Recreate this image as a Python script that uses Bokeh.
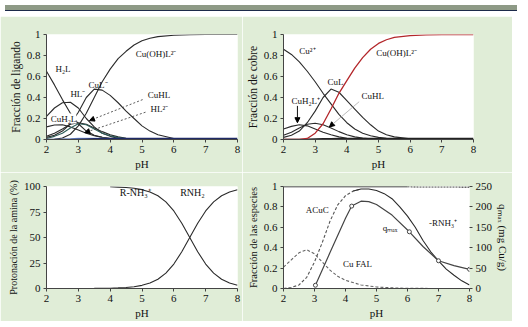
from bokeh.plotting import figure
from bokeh.models import Range1d, LinearAxis, Label, Arrow, NormalHead, Div, FixedTicker
from bokeh.layouts import column, row
from bokeh.embed import file_html
from bokeh.resources import INLINE

# ---------------- data ----------------
ph_a = [2.0, 2.25, 2.5, 2.75, 3.0, 3.25, 3.5, 3.75, 4.0, 4.25, 4.5, 4.75,
        5.0, 5.25, 5.5, 6.0, 6.5, 7.0, 7.5, 8.0]

# panel 1: ligand fraction
lig_H2L = [0.65, 0.52, 0.38, 0.25, 0.15, 0.08, 0.04, 0.02, 0.01, 0.005, 0.002, 0.001, 0, 0, 0, 0, 0, 0, 0, 0]
lig_HL = [0.22, 0.30, 0.35, 0.355, 0.30, 0.20, 0.12, 0.06, 0.03, 0.012, 0.005, 0.002, 0.001, 0, 0, 0, 0, 0, 0, 0]
lig_CuH2L = [0.12, 0.138, 0.14, 0.12, 0.09, 0.06, 0.035, 0.02, 0.01, 0.005, 0.002, 0.001, 0, 0, 0, 0, 0, 0, 0, 0]
lig_CuHL = [0.03, 0.06, 0.10, 0.145, 0.16, 0.145, 0.11, 0.075, 0.045, 0.025, 0.012, 0.006, 0.003, 0.001, 0, 0, 0, 0, 0, 0]
lig_HL2 = [0.01, 0.03, 0.06, 0.11, 0.15, 0.14, 0.10, 0.06, 0.035, 0.018, 0.008, 0.004, 0.002, 0.001, 0, 0, 0, 0, 0, 0]
lig_minor = [0, 0.001, 0.003, 0.006, 0.01, 0.012, 0.012, 0.01, 0.008, 0.005, 0.003, 0.002, 0.001, 0, 0, 0, 0, 0, 0, 0]
lig_tail = [0, 0, 0, 0, 0.002, 0.004, 0.006, 0.008, 0.01, 0.01, 0.01, 0.01, 0.01, 0.01, 0.01, 0.01, 0.01, 0.01, 0.01, 0.01]
lig_CuL = [0.02, 0.04, 0.08, 0.15, 0.26, 0.40, 0.48, 0.47, 0.42, 0.35, 0.27, 0.20, 0.13, 0.08, 0.045, 0.01, 0.002, 0, 0, 0]
lig_CuOHL = [0, 0.003, 0.015, 0.05, 0.13, 0.25, 0.40, 0.55, 0.67, 0.77, 0.84, 0.90, 0.94, 0.965, 0.98, 0.993, 0.998, 1, 1, 1]

# panel 2: copper fraction
cu_Cu = [0.86, 0.81, 0.74, 0.65, 0.55, 0.44, 0.34, 0.24, 0.16, 0.10, 0.06, 0.035, 0.02, 0.011, 0.006, 0.002, 0, 0, 0, 0]
cu_CuH2L = [0.10, 0.125, 0.14, 0.13, 0.10, 0.07, 0.045, 0.025, 0.012, 0.006, 0.003, 0.001, 0, 0, 0, 0, 0, 0, 0, 0]
cu_CuHL = [0.04, 0.07, 0.11, 0.145, 0.155, 0.14, 0.11, 0.075, 0.045, 0.025, 0.013, 0.007, 0.003, 0.001, 0, 0, 0, 0, 0, 0]
cu_CuL = [0.02, 0.04, 0.08, 0.16, 0.27, 0.40, 0.48, 0.45, 0.37, 0.29, 0.21, 0.14, 0.08, 0.045, 0.025, 0.006, 0.001, 0, 0, 0]
cu_CuOHL = [0, 0, 0, 0.01, 0.06, 0.15, 0.29, 0.44, 0.56, 0.68, 0.78, 0.86, 0.915, 0.95, 0.972, 0.99, 0.996, 0.999, 1, 1]
cu_tail = [0, 0, 0.001, 0.002, 0.004, 0.006, 0.008, 0.009, 0.01, 0.01, 0.01, 0.01, 0.01, 0.01, 0.01, 0.01, 0.01, 0.01, 0.01, 0.01]

# panel 3: amine protonation (%)
ph_b = [2, 2.5, 3, 3.5, 4, 4.25, 4.5, 4.75, 5, 5.25, 5.5, 5.75, 6, 6.25, 6.5, 6.75, 7, 7.25, 7.5, 7.75, 8]
amine_RNH2 = [0, 0.01, 0.03, 0.1, 0.3, 0.6, 1.0, 1.7, 3.1, 5.3, 9.1, 15.1, 24.0, 36.0, 50.0, 64.0, 76.0, 84.9, 90.9, 94.7, 96.9]
ph_b_nh3 = [4, 4.25, 4.5, 4.75, 5, 5.25, 5.5, 5.75, 6, 6.25, 6.5, 6.75, 7, 7.25, 7.5, 7.75, 8]
amine_RNH3 = [99.7, 99.4, 99.0, 98.3, 96.9, 94.7, 90.9, 84.9, 76.0, 64.0, 50.0, 36.0, 24.0, 15.1, 9.1, 5.3, 3.1]

# panel 4: species fraction + q_max
ph_top_solid = [2, 4, 6]
top_solid = [1.0, 1.0, 0.998]
ph_top_dot = [6, 7, 8]
top_dot = [0.998, 0.996, 0.995]
ph_acuc = [2, 2.25, 2.5, 2.75, 3, 3.25, 3.5, 3.75, 4, 4.25, 4.5]
acuc = [0, 0.01, 0.035, 0.11, 0.26, 0.45, 0.66, 0.82, 0.91, 0.955, 0.975]
ph_rnh3 = [4.25, 4.5, 4.75, 5, 5.25, 5.5, 5.75, 6, 6.25, 6.5, 6.75, 7, 7.25, 7.5, 7.75, 8]
rnh3 = [0.955, 0.975, 0.975, 0.96, 0.93, 0.88, 0.80, 0.71, 0.60, 0.47, 0.36, 0.27, 0.19, 0.13, 0.075, 0.035]
ph_fal = [2, 2.25, 2.5, 2.75, 3, 3.25, 3.5, 3.75, 4, 4.5, 5, 5.5, 6, 7, 8]
cufal = [0.21, 0.28, 0.35, 0.38, 0.34, 0.26, 0.18, 0.12, 0.08, 0.035, 0.015, 0.006, 0.002, 0, 0]
ph_q = [3.03, 3.5, 4.0, 4.2, 4.5, 4.75, 5.0, 5.5, 6.06, 6.5, 7.0, 7.5, 8.0]
q_line = [8, 88, 172, 202, 214, 213, 206, 180, 139, 103, 68, 56, 47]
ph_qpts = [3.03, 4.2, 6.06, 7.0, 8.0]
q_pts = [8, 202, 139, 68, 47]

x_ticks = [2, 3, 4, 5, 6, 7, 8]
frac_ticks = [0, 0.2, 0.4, 0.6, 0.8, 1]
pct_ticks = [0, 25, 50, 75, 100]
q_ticks = [0, 50, 100, 150, 200, 250]

# ---------------- style ----------------
BG = "#e0edd7"
SERIF = "Liberation Serif"
INK = "#2a2a2a"


def make_fig(w, h, left, right, top, bottom, ylab, yr, yticks, ylab_size="11px"):
    p = figure(width=w, height=h, x_range=Range1d(2, 8), y_range=Range1d(*yr),
               output_backend="svg", toolbar_location=None,
               min_border_left=left, min_border_right=right,
               min_border_top=top, min_border_bottom=bottom)
    p.border_fill_color = BG
    p.background_fill_color = "white"
    p.outline_line_color = None
    p.xgrid.visible = False
    p.ygrid.visible = False
    p.xaxis.axis_label = "pH"
    p.yaxis.axis_label = ylab
    p.xaxis.ticker = FixedTicker(ticks=x_ticks)
    p.yaxis.ticker = FixedTicker(ticks=yticks)
    for ax in (p.xaxis, p.yaxis):
        ax.axis_line_color = "#444444"
        ax.major_tick_line_color = "#444444"
        ax.minor_tick_line_color = None
        ax.major_tick_in = 0
        ax.major_tick_out = 3
        ax.major_label_text_font = SERIF
        ax.major_label_text_font_size = "11px"
        ax.major_label_text_color = "#111111"
        ax.major_label_standoff = 3
        ax.axis_label_text_font = SERIF
        ax.axis_label_text_font_style = "normal"
        ax.axis_label_text_color = "#111111"
        ax.axis_label_standoff = 2
    p.xaxis.axis_label_text_font_size = "11px"
    p.yaxis.axis_label_text_font_size = ylab_size
    p.yaxis.major_label_overrides = {0: "0", 1: "1"}
    return p


def lab(p, x, y, text, size="9px", bg=None):
    p.add_layout(Label(x=x, y=y, text=text, text_font=SERIF, text_font_size=size,
                       text_color="#111111", text_baseline="middle",
                       background_fill_color=bg))


# ---- panel 1 ----
p1 = make_fig(242, 156, 46, 5, 18, 30, "Fracción de ligando", (0, 1), frac_ticks, "11.5px")
for ys, col in [(lig_H2L, INK), (lig_HL, INK), (lig_CuH2L, INK), (lig_CuHL, INK),
                (lig_HL2, "#2f5f5a"), (lig_CuL, INK), (lig_CuOHL, INK)]:
    p1.line(ph_a, ys, line_color=col, line_width=1.1)
p1.line(ph_a, lig_minor, line_color="#7f9fe0", line_width=1.2)
p1.line(ph_a, lig_tail, line_color="#1f2a66", line_width=1.5)
lab(p1, 2.28, 0.67, "H₂L")
lab(p1, 2.75, 0.43, "HL⁻")
lab(p1, 3.32, 0.52, "CuL⁻")
lab(p1, 4.8, 0.81, "Cu(OH)L²⁻")
lab(p1, 5.18, 0.42, "CuHL")
lab(p1, 5.27, 0.29, "HL²⁻")
lab(p1, 2.13, 0.2, "CuH₂L", bg="white")
p1.add_layout(Arrow(end=NormalHead(size=5, fill_color="black", line_color="black"),
                    x_start=5.02, y_start=0.38, x_end=3.35, y_end=0.18,
                    line_dash="2 2", line_width=0.8, line_color="#333333"))
p1.add_layout(Arrow(end=NormalHead(size=5, fill_color="black", line_color="black"),
                    x_start=5.11, y_start=0.26, x_end=3.2, y_end=0.065,
                    line_dash="2 2", line_width=0.8, line_color="#333333"))

# ---- panel 2 ----
p2 = make_fig(270, 156, 41, 39, 18, 30, "Fracción de cobre", (0, 1), frac_ticks, "11.5px")
for ys in (cu_Cu, cu_CuH2L, cu_CuHL, cu_CuL):
    p2.line(ph_a, ys, line_color=INK, line_width=1.1)
p2.line(ph_a, cu_tail, line_color="#222222", line_width=1.5)
p2.line(ph_a, cu_CuOHL, line_color="#b3262a", line_width=1.3)
lab(p2, 2.5, 0.84, "Cu²⁺")
lab(p2, 4.93, 0.82, "Cu(OH)L²⁻")
lab(p2, 3.39, 0.55, "CuL")
lab(p2, 2.25, 0.37, "CuH₂L⁺")
lab(p2, 4.46, 0.41, "CuHL")
p2.add_layout(Arrow(end=NormalHead(size=5, fill_color="black", line_color="black"),
                    x_start=2.44, y_start=0.32, x_end=2.44, y_end=0.16,
                    line_width=1, line_color="#111111"))
p2.add_layout(Arrow(end=NormalHead(size=5, fill_color="black", line_color="black"),
                    x_start=4.39, y_start=0.36, x_end=3.45, y_end=0.12,
                    line_width=0.8, line_color="#aaaaaa"))

# ---- panel 3 ----
p3 = make_fig(242, 149, 46, 5, 14, 25, "Protonación de la amina (%)", (0, 100), pct_ticks, "10px")
p3.yaxis.major_label_overrides = {}
p3.line(ph_b, amine_RNH2, line_color=INK, line_width=1.1)
p3.line(ph_b_nh3, amine_RNH3, line_color=INK, line_width=1.1)
lab(p3, 4.3, 94.5, "R-NH₃⁺", "10px")
lab(p3, 6.2, 94.5, "RNH₂", "10px")

# ---- panel 4 ----
p4 = make_fig(270, 149, 41, 38, 14, 25, "Fracción de las especies", (0, 1), frac_ticks, "10.5px")
p4.extra_y_ranges = {"q": Range1d(0, 250)}
rax = LinearAxis(y_range_name="q", axis_label="qₘₐₓ (mg Cu/g)",
                 ticker=FixedTicker(ticks=q_ticks))
rax.axis_line_color = None
rax.major_tick_line_color = "#444444"
rax.minor_tick_line_color = None
rax.major_tick_in = 0
rax.major_tick_out = 3
rax.major_label_text_font = SERIF
rax.major_label_text_font_size = "11px"
rax.major_label_text_color = "#111111"
rax.major_label_standoff = 3
rax.axis_label_text_font = SERIF
rax.axis_label_text_font_style = "normal"
rax.axis_label_text_font_size = "11px"
rax.axis_label_text_color = "#111111"
rax.axis_label_standoff = 2
p4.add_layout(rax, "right")
p4.line(ph_top_solid, top_solid, line_color="#111111", line_width=1.3)
p4.line(ph_top_dot, top_dot, line_color="#333333", line_width=1.3, line_dash="2 1")
p4.line(ph_acuc, acuc, line_color="#555555", line_width=1.1, line_dash="3 2")
p4.line(ph_rnh3, rnh3, line_color=INK, line_width=1.1)
p4.line(ph_fal, cufal, line_color="#666666", line_width=1.1, line_dash="3 2")
p4.line(ph_q, q_line, y_range_name="q", line_color="#444444", line_width=1.2)
p4.scatter(ph_qpts, q_pts, y_range_name="q", marker="circle", size=4,
           fill_color="white", line_color="#444444", line_width=1)
lab(p4, 2.72, 0.77, "ACuC")
lab(p4, 3.92, 0.245, "Cu FAL")
lab(p4, 5.2, 0.59, "qₘₐₓ")
lab(p4, 6.69, 0.64, "-RNH₃⁺")

strip = Div(text="", width=512, height=6,
            styles={"background": "linear-gradient(#8e9a86 0px, #8e9a86 5px, #1c2a4a 5px, #1c2a4a 6px)"})

layout = column(strip, row(p1, p2), row(p3, p4))
open("out.html", "w").write(file_html(layout, INLINE))
